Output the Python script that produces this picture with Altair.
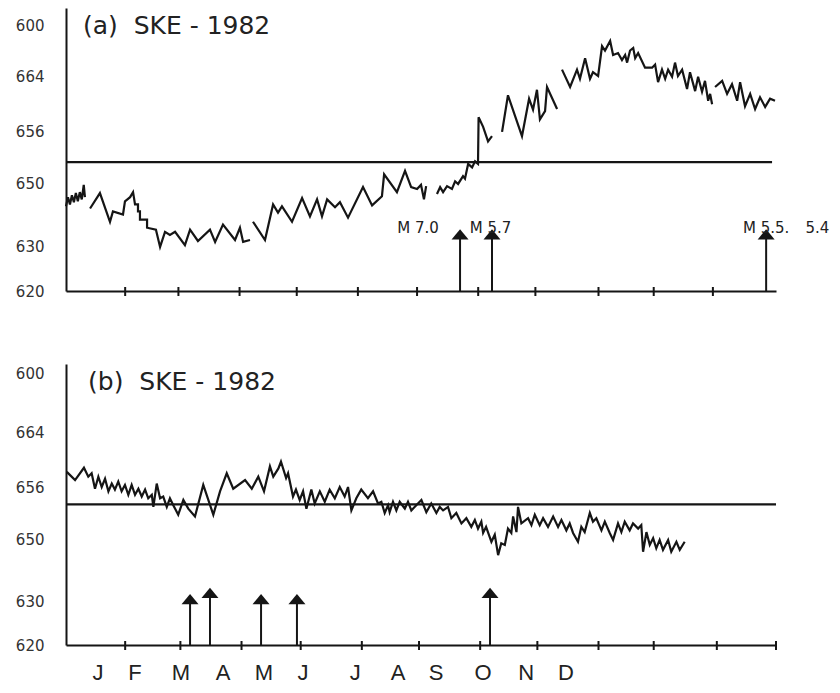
import altair as alt
import pandas as pd

FONT = "DejaVu Sans"
MONTH_FONT = "Liberation Sans"
INK = "#151515"

# ---------------- y axis (shared reading of both panels) ----------------
y_tick_values = [620, 630, 650, 656, 664, 672]
y_tick_labels = ["620", "630", "650", "656", "664", "600"]
y_domain = [620, 630, 650, 656, 664, 672, 676]

# ---------------- panel (a) : day of year, level ----------------
a_s1_day = [0, 1, 2, 3, 4, 5, 6, 7, 8, 9, 9.6]
a_s1_val = [642.6, 645.5, 643.2, 646.1, 643.9, 646.8, 644.2, 647.1, 644.8, 649.4, 645.5]

a_s2_day = [12.2, 17.2, 22.3, 23.8, 28.9, 29.9, 32.5, 34, 35, 36.5, 36.5, 37.5, 37.5, 41.1, 41.1,
            45.6, 47.7, 50.2, 52.7, 55.3, 60.3, 62.9, 66.9, 73, 75.6, 79.6, 85.7, 88.2, 89.8, 93.3]
a_s2_val = [641.9, 646.8, 637.7, 641.0, 640.0, 644.2, 645.5, 647.1, 643.2, 643.2, 641.0, 641.0, 638.4,
            638.4, 635.8, 635.2, 629.8, 634.5, 633.5, 634.5, 630.3, 635.2, 631.6, 635.2, 631.3, 636.8,
            631.9, 635.8, 631.3, 631.9]

a_s3_day = [94.8, 100.9, 105, 107.5, 109.5, 114.6, 119.7, 123.7, 127.3, 129.8, 132.4, 136.4, 138.9,
            143, 150.6, 155.2, 160.2, 161.3, 167.8, 171.9, 175, 178, 180, 181.5, 182.6]
a_s3_val = [637.7, 631.9, 643.2, 640.6, 642.6, 637.7, 645.2, 639.4, 644.8, 639.4, 644.8, 642.3, 643.9,
            639.0, 648.7, 642.9, 645.8, 651.0, 647.1, 651.4, 648.7, 648.1, 649.4, 644.8, 649.0]

a_s4_day = [188.1, 189.7, 191.2, 193.2, 195.7, 197.3, 198.8, 201.3, 202.3, 203.9, 205.9, 207.4, 208.9,
            209.2, 211.5, 214, 216]
a_s4_val = [646.5, 648.7, 647.1, 649.0, 648.1, 650.2, 649.7, 650.8, 650.5, 652.2, 651.8, 652.5, 652.2,
            658.0, 656.6, 654.8, 655.4]

a_s5_day = [221.1, 224.1, 231.2, 234.8, 236.8, 238.8, 240.3, 242.9, 243.9, 249]
a_s5_val = [655.9, 661.2, 655.4, 660.7, 659.1, 662.0, 657.7, 658.9, 662.4, 659.2]

a_s6_day = [251.5, 255.6, 259.1, 260.6, 263.2, 265.7, 267.2, 269.8, 271.8, 273.3, 275.9, 277.4, 279.9,
            281.9, 283.5, 284.5, 286, 287.6, 288.6, 290.1, 293.6, 297.2, 298.7, 300.2, 302.2, 303.8,
            305.3, 307.3, 308.8, 310.3, 312.4, 314.9, 316.4, 319, 320.5, 322.5, 324, 325.6, 326.6, 327.6]
a_s6_val = [665.0, 662.4, 665.0, 663.6, 666.8, 663.6, 664.6, 664.0, 668.7, 668.0, 669.5, 667.3, 667.6,
            666.5, 667.3, 666.1, 668.0, 668.4, 666.8, 667.6, 665.3, 665.3, 665.8, 663.1, 665.0, 663.6,
            665.0, 663.9, 666.1, 664.0, 665.0, 662.1, 664.6, 661.8, 663.9, 661.7, 663.3, 660.4, 661.4,
            659.9]

a_s7_day = [329.1, 332.7, 335.2, 337.7, 340.3, 341.8, 344.3, 346.9, 349.4, 351.9, 354.5, 357, 359.5]
a_s7_val = [662.4, 663.3, 661.4, 662.8, 660.4, 663.1, 659.6, 661.4, 659.2, 660.9, 659.5, 660.7, 660.4]

a_ref_level = 652.4
a_ref_end = 358
a_tick_day = [30, 57, 88, 117, 148, 178, 209, 238, 270, 298, 328]
a_quake_day = [199.8, 216, 355]
a_quake_level = [633.7, 633.7, 633.7]
a_quake_text = ["M 7.0", "M 5.7", "M 5.5.", "5.4"]
a_quake_text_day = [178.5, 215.3, 355, 381]
a_quake_text_level = [634.2, 634.2, 634.2, 634.2]
a_title = "(a)\u00a0\u00a0SKE - 1982"
a_title_day = [8.6]

# ---------------- panel (b) ----------------
b_day = [0.4, 4.6, 9.1, 11.3, 13, 14.7, 16.4, 18.1, 19.8, 21.5, 23.2, 24.8, 26.5, 28.2, 29.9, 31.6,
         33.3, 35, 36.7, 38.4, 40.1, 41.7, 43.5, 44.3, 46, 47.7, 49.3, 51.1, 52.7, 54.4, 56.9, 59.5,
         62, 65.4, 69.6, 74.7, 78.1, 81.5, 84.8, 90.8, 94.2, 97.5, 100.4, 103.4, 105.1, 107.7, 109,
         111.6, 112.6, 115.1, 116.6, 118.5, 120.2, 121.9, 124.4, 126.1, 128.7, 131.2, 133.7, 136.3,
         138.8, 141.3, 143, 144.7, 147.2, 149.7, 153.1, 155.7, 158.2, 159.9, 161.6, 163.3, 164.1,
         165.8, 167.5, 169.2, 171.8, 173.4, 175.1, 177.6, 180.2, 182.7, 185.2, 187.8, 189.5, 191.2,
         193.7, 195.4, 197.9, 200.5, 203, 205.5, 207.3, 208.9, 210.6, 211.5, 213, 215.7, 217.4,
         219.1, 220.7, 222.5, 224.1, 225.8, 226.7, 228.4, 229.2, 230.9, 234.3, 236, 237.7, 240.2,
         241.9, 244.4, 247, 249.5, 251.2, 253.7, 255.4, 257.1, 259.6, 261.3, 263, 265.6, 267.2,
         268.9, 271.5, 273.2, 275.7, 277.4, 279.9, 281.6, 283.3, 285.8, 287.5, 290.1, 291.7, 292.6,
         294.3, 296, 297.7, 299.3, 301, 302.7, 305.3, 306.9, 309.5, 311.2, 313.7]
b_val = [658.2, 657.0, 658.8, 657.5, 658.0, 655.8, 657.5, 656.0, 657.2, 655.5, 656.5, 655.7, 656.8,
         655.5, 656.3, 655.1, 656.3, 655.1, 655.8, 654.9, 655.7, 654.7, 655.1, 653.7, 656.5, 654.7,
         654.9, 653.7, 654.7, 653.9, 652.8, 654.5, 653.5, 652.6, 656.3, 652.8, 655.5, 658.0, 655.8,
         657.0, 655.8, 657.5, 655.5, 659.0, 657.5, 658.7, 659.7, 657.3, 658.0, 654.9, 655.7, 654.5,
         655.5, 653.5, 655.7, 654.1, 655.5, 654.3, 655.7, 654.7, 656.0, 654.9, 656.0, 653.3, 654.7,
         655.7, 654.7, 655.5, 654.1, 654.3, 653.0, 653.9, 653.1, 654.3, 653.3, 654.3, 653.5, 654.3,
         653.3, 653.9, 654.5, 653.1, 654.1, 653.0, 653.7, 653.3, 653.7, 652.4, 653.0, 651.8, 652.4,
         651.4, 652.2, 651.2, 652.0, 650.7, 651.4, 649.1, 650.5, 644.8, 648.6, 648.1, 651.2, 650.7,
         652.6, 650.8, 653.7, 651.8, 652.4, 651.6, 652.8, 651.6, 652.4, 651.4, 652.6, 651.4, 652.2,
         651.0, 651.8, 650.7, 649.1, 651.4, 650.8, 653.0, 652.0, 652.4, 651.0, 652.0, 650.7, 649.7,
         651.8, 650.8, 652.0, 651.0, 651.8, 651.2, 651.6, 645.9, 650.8, 648.1, 650.1, 647.0, 649.7,
         646.5, 649.7, 645.9, 649.1, 646.5, 649.1]

b_ref_level = 654.0
b_ref_end = 360
b_tick_day = [30, 58, 89, 119, 150, 179, 210, 239, 270, 298, 330, 360]
b_quake_day = [62.9, 73, 98.9, 117.1, 215]
b_quake_level = [630.6, 632.6, 630.6, 630.6, 632.6]
b_title = "(b)\u00a0\u00a0SKE - 1982"
b_title_day = [11.2]

month_names = ["J", "F", "M", "A", "M", "J", "J", "A", "S", "O", "N", "D"]
month_label_day = [16.2, 35, 58.3, 79.6, 100.4, 120.2, 146.6, 168.4, 187.6, 211.5, 233.3, 253.5]

# ---------------- helpers ----------------
label_expr = "datum.label"
for v, l in zip(reversed(y_tick_values), reversed(y_tick_labels)):
    label_expr = f"datum.value == {v} ? '{l}' : ({label_expr})"

X_SCALE = alt.Scale(domain=[0, 360], nice=False, zero=False)
X_AXIS = alt.Axis(title=None, labels=False, ticks=False, grid=False, domainColor=INK,
                  domainWidth=2)


def y_axis():
    return alt.Axis(title=None, values=y_tick_values, labelExpr=label_expr, ticks=False,
                    grid=False, domainColor=INK, domainWidth=2, labelFont=FONT, labelFontSize=15,
                    labelColor="#333333", labelPadding=22)


def segments_frame(segs):
    rows = []
    k = 0
    for sid, (days, vals) in enumerate(segs):
        for d, v in zip(days, vals):
            rows.append({"day": d, "level": v, "seg": sid, "idx": k})
            k += 1
    return pd.DataFrame(rows)


def panel(line_df, H, y_range, ref_level, ref_end, tick_days, q_day, q_level, title, title_day,
          extra_fn=None):
    ys = alt.Scale(domain=y_domain, range=y_range, nice=False, zero=False)

    def X(f):
        return alt.X(f, type="quantitative", scale=X_SCALE, axis=X_AXIS)

    def Y(f):
        return alt.Y(f, type="quantitative", scale=ys, axis=y_axis())

    line = alt.Chart(line_df).mark_line(color=INK, strokeWidth=2.2).encode(
        x=X("day"), y=Y("level"), detail="seg:N", order="idx:Q")

    ref_df = pd.DataFrame({"day": [0], "day_end": [ref_end], "level": [ref_level]})
    ref = alt.Chart(ref_df).mark_rule(color=INK, strokeWidth=2.2).encode(
        x=X("day"), x2="day_end", y=Y("level"))

    tick_df = pd.DataFrame({"day": tick_days})
    ticks = alt.Chart(tick_df).mark_rule(color=INK, strokeWidth=2).encode(
        x=X("day"), y=alt.value(H - 4), y2=alt.value(H + 5))

    q_df = pd.DataFrame({"day": q_day, "level": q_level, "base": [620] * len(q_day)})
    shafts = alt.Chart(q_df).mark_rule(color=INK, strokeWidth=2).encode(
        x=X("day"), y=Y("base"), y2="level")
    heads = alt.Chart(q_df).mark_point(shape="M-1,0.6L0,-0.6L1,0.6Z", filled=True, size=289,
                                       color=INK, opacity=1).encode(x=X("day"), y=Y("level"))

    t_df = pd.DataFrame({"day": title_day, "text": [title]})
    ttl = alt.Chart(t_df).mark_text(font=FONT, fontSize=25, align="left", baseline="alphabetic",
                                    color="#222222").encode(
        x=X("day"), y=alt.value(26), text="text:N")

    layers = [ref, line, ticks, shafts, heads, ttl]
    if extra_fn is not None:
        layers += extra_fn(X, Y, H)
    return alt.layer(*layers).properties(width=710, height=H)


def a_extra(X, Y, H):
    lab_df = pd.DataFrame({"day": a_quake_text_day, "level": a_quake_text_level,
                           "text": a_quake_text})
    return [alt.Chart(lab_df).mark_text(font=FONT, fontSize=15, align="center",
                                        baseline="alphabetic", color="#222222").encode(
        x=X("day"), y=Y("level"), text="text:N")]


def b_extra(X, Y, H):
    m_df = pd.DataFrame({"day": month_label_day, "text": month_names})
    return [alt.Chart(m_df).mark_text(font=MONTH_FONT, fontSize=22, align="center",
                                      baseline="alphabetic", color="#222222").encode(
        x=X("day"), y=alt.value(H + 35), text="text:N")]


a_df = segments_frame([(a_s1_day, a_s1_val), (a_s2_day, a_s2_val), (a_s3_day, a_s3_val),
                       (a_s4_day, a_s4_val), (a_s5_day, a_s5_val), (a_s6_day, a_s6_val),
                       (a_s7_day, a_s7_val)])
b_df = segments_frame([(b_day, b_val)])

H_A = 283
H_B = 281

panel_a = panel(a_df, H_A, [283, 238, 175, 123, 68, 17, 0], a_ref_level, a_ref_end, a_tick_day,
                a_quake_day, a_quake_level, a_title, a_title_day, extra_fn=a_extra)
panel_b = panel(b_df, H_B, [281, 237, 175, 123, 68, 9, 0], b_ref_level, b_ref_end, b_tick_day,
                b_quake_day, b_quake_level, b_title, b_title_day, extra_fn=b_extra)

chart = alt.vconcat(panel_a, panel_b, spacing=65).properties(
    padding={"left": 7, "top": 0, "right": 0, "bottom": 0}
).configure(background="white").configure_view(stroke=None)

chart.save("out.html", embed_options={"renderer": "svg", "actions": False})
